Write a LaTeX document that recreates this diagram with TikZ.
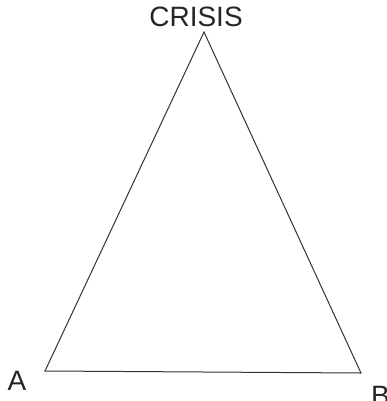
\documentclass[tikz,border=0pt]{standalone}
\usepackage{fontspec}
\setmainfont{Liberation Sans}
\begin{document}
\begin{tikzpicture}[x=1pt,y=-1pt,
  lbl/.style={inner sep=0pt, font=\fontsize{28}{28}\selectfont, text=black!85},
  edge/.style={draw=black!80, line width=1pt, line join=miter}]
\useasboundingbox (0,0) rectangle (386,401);
\coordinate (top) at (204,32);
\coordinate (bl) at (45,371);
\coordinate (br) at (361,373);
\draw[edge] (top) -- (bl) -- (br) -- cycle;
\node[lbl] (crisis) at (196,17) {CRISIS};
\node[lbl] (a) at (17,381) {A};
\node[lbl, anchor=west] (b) at (371,396) {B};
\end{tikzpicture}
\end{document}
